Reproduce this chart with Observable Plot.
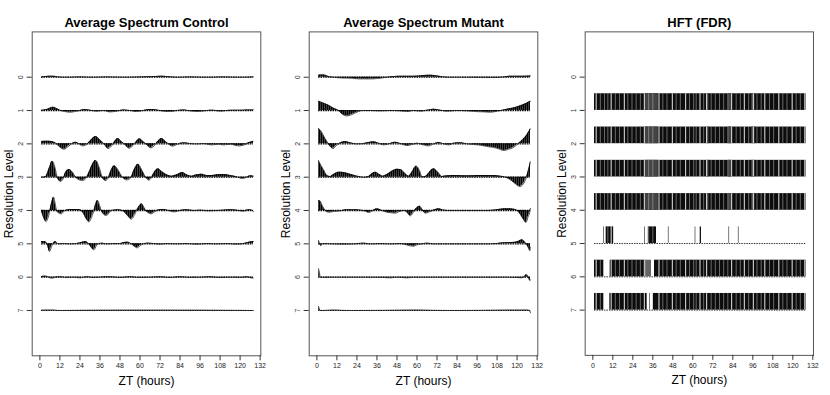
<!DOCTYPE html>
<html><head><meta charset="utf-8">
<script src="https://cdn.jsdelivr.net/npm/d3@7"></script>
<script src="https://cdn.jsdelivr.net/npm/@observablehq/plot@0.6"></script>
<style>
body{margin:0;background:#fff;}
#wrap{position:relative;width:830px;height:395px;overflow:hidden;font-family:"Liberation Sans",Arial,sans-serif;}
.panel{position:absolute;top:0;}
</style></head><body>
<svg width="0" height="0" style="position:absolute">
  <defs>
    <pattern id="hatch" width="2" height="4" patternUnits="userSpaceOnUse">
      <rect width="2" height="4" fill="#555"/>
      <rect width="1.25" height="4" fill="#000"/>
    </pattern>
  </defs>
</svg>
<div id="wrap"></div>
<script>
// ---- data ----
const levels = [0,1,2,3,4,5,6,7];
const xTicks = [0,12,24,36,48,60,72,84,96,108,120,132];
const titles = ["Average Spectrum Control","Average Spectrum Mutant","HFT (FDR)"];
const xLabel = "ZT (hours)";
const yLabel = "Resolution Level";

// Control: [hour, coefficient (in level units, + = up)]
const ctrl0 = [[1,0.01],[3,0.02],[5,0.03],[8,0.03],[11,0.01],[16,0],[24,0.01],[32,0],[40,0.01],[50,0],[60,0.01],[68,0.02],[72,0.03],[76,0.02],[82,0],[90,0.01],[100,0],[110,0.01],[120,0],[128,0.01]];
const ctrl1 = [[1,0.01],[4,0.03],[6,0.07],[8,0.1],[10,0.06],[12,0.01],[15,-0.03],[18,-0.05],[21,-0.03],[24,0],[27,0.03],[30,0.01],[34,-0.02],[38,0],[42,-0.04],[46,-0.02],[50,0.02],[54,0],[58,-0.03],[62,0],[66,0.03],[70,0.02],[74,-0.02],[78,-0.03],[82,0],[86,0.02],[90,-0.01],[95,-0.03],[100,0],[104,0.01],[108,-0.02],[112,0],[116,0.01],[120,0.01],[124,0.02],[128,0.02]];
const ctrl2 = [[1,0.07],[4,0.08],[7,0.07],[10,0],[12,-0.1],[14.5,-0.16],[17,-0.08],[19,0],[21.5,0.05],[23.5,0],[25.5,-0.06],[28,-0.02],[30,0.08],[33.4,0.22],[36,0.12],[38.4,0],[40.8,-0.14],[43,-0.06],[44.5,0.05],[46.8,0.16],[49,0.06],[50.5,0],[53.4,-0.13],[56,-0.04],[57.5,0.05],[59.8,0.15],[62,0.06],[63.5,0],[66.4,-0.12],[69,-0.03],[70.5,0.06],[73,0.16],[75.5,0.06],[77,0],[79.4,-0.07],[82,-0.02],[86,0.03],[90,0.01],[94,0],[98,0.01],[103,-0.03],[107,-0.01],[110,-0.03],[114,-0.01],[119,-0.06],[122,-0.04],[125,0.03],[128,0.08]];
const ctrl3 = [[1,0],[3.4,0.01],[5.5,0.25],[7.4,0.48],[9,0.3],[10.4,0],[12.4,-0.13],[14,-0.04],[15.5,0.15],[17.4,0.23],[19.5,0.15],[21.4,0],[23.5,-0.08],[25.5,-0.1],[27.5,-0.04],[29.5,0.15],[31.5,0.38],[33.4,0.5],[35.5,0.3],[37.4,0],[39.2,-0.1],[41,-0.02],[42.5,0.18],[44.6,0.34],[47,0.2],[49.4,0],[52,-0.08],[54.5,-0.02],[56.5,0.22],[58.8,0.39],[61,0.22],[63.4,0],[65.4,-0.09],[67,0],[68.8,0.16],[70.8,0.25],[73,0.17],[76,0.07],[79,0.03],[82,0.07],[85.4,0.14],[88,0.07],[91,0.03],[94,0.07],[97,0.09],[100,0.05],[103,0.05],[106,0.07],[110,0.08],[114,0.05],[118,0.01],[121.4,-0.04],[124,0],[126,0.04],[128,0.03]];
const ctrl4 = [[1,-0.03],[2.2,-0.2],[3.6,-0.33],[5,-0.2],[6,0],[7,0.22],[8.2,0.4],[9.2,0.2],[10,0],[11.5,-0.08],[12.8,-0.1],[14.5,-0.02],[17,0.02],[20,0.03],[24,0.02],[26,-0.08],[27.8,-0.25],[29.4,-0.34],[31,-0.2],[32.4,0],[33.4,0.18],[34.6,0.3],[35.8,0.15],[36.8,0],[38,-0.1],[39.6,-0.15],[41.5,-0.08],[43,0],[47,0.02],[50,-0.02],[52.5,-0.15],[54.8,-0.26],[56.5,-0.15],[58,0],[59.5,0.12],[61,0.2],[62.3,0.1],[63.4,0],[65,-0.07],[66.6,-0.1],[68.5,-0.05],[70,0],[73.4,0.03],[77,0],[80.4,-0.04],[84,0],[87.4,0.02],[92,0],[96,0.01],[101,-0.01],[106,0],[110,0.01],[115,0.02],[119,0],[122,-0.02],[125,0.02],[127,0.01],[128,-0.03]];
const ctrl5 = [[1,0.07],[3.4,0.06],[4.6,-0.05],[5.8,-0.23],[7,-0.08],[7.8,0],[9.4,0.07],[10.8,0],[14,0.01],[18,0],[22,0.01],[25.5,0.05],[27.4,0.07],[29.2,0],[30.7,-0.1],[32.4,-0.18],[33.8,-0.06],[34.8,0],[37,0.02],[40,0],[44,0.01],[48,0.01],[50.5,0.04],[52.4,0.05],[54.5,0.01],[56.5,-0.07],[58.4,-0.12],[60.4,-0.04],[62,0],[64,0.02],[68,0.01],[72,-0.01],[76,0.01],[82,0],[88,0.01],[94,-0.01],[100,0.01],[106,0],[112,0.01],[118,-0.01],[123,0.02],[126.5,0.06],[128,0.07]];
const ctrl6 = [[1,0.02],[3,0.03],[4.5,0.02],[6,-0.02],[7.5,-0.03],[9,0],[12,0.01],[16,-0.01],[20,0],[24,-0.02],[28,0.01],[32,-0.01],[36,0],[42,0.01],[48,-0.01],[54,0.01],[60,-0.01],[66,0],[72,0.01],[78,-0.01],[84,0.01],[90,-0.01],[96,0],[102,0.01],[108,-0.01],[114,0],[120,-0.01],[124,0.01],[126.5,-0.02],[128,-0.03]];
const ctrl7 = [[1,0.005],[8,0.01],[12,0],[60,0.005],[128,0]];

// Mutant
const mut0 = [[1,0.06],[3,0.07],[5,0.06],[7,0.02],[10,0],[14,-0.02],[20,-0.03],[26,-0.05],[32,-0.05],[38,-0.03],[42,0],[46,0.02],[52,0.03],[58,0.03],[64,0.05],[68,0.06],[72,0.04],[76,0.01],[82,0],[90,0],[100,-0.01],[106,-0.01],[112,0.01],[116,0.03],[122,0.03],[128,0.04]];
const mut1 = [[1,0.28],[3,0.24],[6,0.18],[8,0.13],[10,0.07],[13,0],[15,-0.1],[18,-0.16],[21,-0.12],[24,-0.05],[27,0],[32,0],[38,-0.01],[44,0],[50,-0.01],[54,-0.03],[58,0],[62,-0.02],[66,0.01],[70,0.04],[74,0.01],[78,-0.02],[84,0],[90,-0.01],[95,-0.03],[100,-0.04],[104,-0.05],[108,-0.02],[112,0.02],[116,0.06],[120,0.11],[124,0.18],[128,0.28]];
const mut2 = [[1,0.46],[2.5,0.38],[4,0.24],[6.4,0.04],[8,-0.08],[9.8,-0.14],[11.5,-0.06],[13,0],[15,0.05],[17,0.07],[20,0.03],[24,0],[28,0.01],[31,0.04],[34,0.06],[37,0.02],[40,-0.03],[43,0],[47,0.05],[50,0.01],[54,-0.05],[57,-0.02],[60,0.02],[63,-0.02],[67,-0.06],[70,0],[73,0.04],[76,0],[79,-0.03],[82,0.02],[86,0.03],[90,0],[94,-0.02],[98,-0.04],[102,-0.08],[106,-0.11],[109,-0.15],[112,-0.2],[115,-0.16],[118,-0.1],[120.5,0],[123,0.1],[125.5,0.24],[128,0.45]];
const mut3 = [[1,0.5],[2.5,0.35],[4,0.22],[6,0.05],[8,0.02],[10,0.08],[13,0.15],[16,0.14],[19,0.1],[22,0.06],[25,0.02],[28,0],[31,0.02],[33,0.1],[35,0.15],[37.5,0.08],[39.5,0.03],[42,0.08],[45,0.18],[48,0.24],[50.5,0.22],[53,0.1],[55,0.03],[57,0.15],[59.5,0.33],[61.5,0.2],[63,0.01],[65,0.02],[67,0.12],[70,0.25],[72.5,0.15],[75,0.02],[78,0.04],[84,0.05],[90,0.04],[96,0.05],[102,0.05],[106,0.05],[110,0.03],[113,0],[116,-0.08],[119,-0.2],[121.6,-0.28],[123.5,-0.22],[125,-0.08],[126.5,0.15],[128,0.46]];
const mut4 = [[1,0.3],[2,0.28],[3.2,0.15],[5,0],[7,-0.05],[10,-0.03],[14,-0.01],[18,0.02],[22,0.02],[26,0.01],[29,-0.02],[31,-0.06],[33,-0.02],[36,0.05],[39,0],[42,-0.05],[45,-0.07],[47,-0.08],[49,-0.04],[52,0],[54,-0.05],[56,-0.16],[57.5,-0.08],[59,0.03],[61.6,0.13],[63,0.04],[65,-0.08],[67,-0.05],[69,-0.01],[73,0.05],[76,0.01],[80,0],[90,0],[100,0],[106,0.01],[110,0.04],[114,0.05],[118,0.04],[120,0],[122,-0.12],[124,-0.28],[125.3,-0.36],[126.5,-0.2],[127.6,-0.05],[128,0.06]];
const mut5 = [[1,0.1],[1.6,0.02],[2.4,-0.06],[3.2,0],[5,0.01],[10,0],[16,-0.01],[22,0],[28,0.02],[32,0],[38,0.01],[44,0],[50,0.01],[53,-0.02],[56,-0.06],[58,-0.07],[60,-0.03],[63,0],[66,0.02],[70,0],[80,0],[90,0],[100,0],[108,0.01],[112,0.03],[116,0.04],[119,0.05],[121,0.08],[123,0.12],[124.5,0.06],[125.5,0],[126.8,-0.12],[127.6,-0.2],[128,-0.1]];
const mut6 = [[1,0.25],[1.5,0.15],[2,0],[3,-0.01],[10,0],[20,0],[30,0],[40,-0.01],[44,-0.02],[48,0],[54,-0.02],[58,0],[70,0],[90,0],[110,0],[120,-0.01],[122,-0.02],[124,0],[125.6,0.07],[126.6,0.02],[127.6,-0.1],[128,-0.08]];
const mut7 = [[1,0.12],[1.5,0.05],[2,0],[10,0.01],[20,0],[60,0.01],[80,0],[120,0.01],[126,0.01],[127.6,0],[128,-0.07]];

// HFT (FDR): selected stretches [level, fromHour, toHour]
const hftBlocks = [[1,1,128],[2,1,128],[3,1,128],[4,1,128],[5,8,12.5],[5,33.3,38.2],[6,1,6.6],[6,10.4,31.8],[6,37,128],[7,1,6.6],[7,10.2,32.6],[7,36.3,128]];
const hftGrayBlocks = [[6,31.8,35.2]];
const hftSingleDark = [[5,64.5]];
const hftSingleGray = [[5,6.4],[5,31],[5,45.3],[5,61.3],[5,81.5],[5,87.3],[7,34]];
const hftLightLines = [2.0,11.0,18.9,30.9,39.7,47.7,55.7,64.3,68.3,83.3,90.9,96.3,103.2,111.6,119.6,127.2];
const hftFaintLines = [4.5,7,9,13.5,16,21,23.5,26,28.5,33.5,36,42,44.5,50,52.5,58,60.5,62,66.5,71,73.5,76,78.5,81,86,88.5,93.5,98.5,101,106,108.5,114,116.5,122,124.5];
const hftGrayBands = [[31.3,39.3],[68.3,69.7],[81.3,83.3],[95.3,97.3]];

const control = [ctrl0,ctrl1,ctrl2,ctrl3,ctrl4,ctrl5,ctrl6,ctrl7];
const mutant = [mut0,mut1,mut2,mut3,mut4,mut5,mut6,mut7];

// ---- layout ----
const W = 277, H = 395;
const M = {marginLeft: 31.7, marginRight: 16.7, marginTop: 31.4, marginBottom: 39.7};
const FONT = '"Liberation Sans", Arial, sans-serif';

function frameMarks(title) {
  return [
    Plot.frame({stroke: "#555", strokeWidth: 1}),
    Plot.axisX({ticks: xTicks, tickSize: 5, tickPadding: 2.5, fontSize: 7, label: null, stroke: "#333", fill: "#222"}),
    Plot.axisY({ticks: levels, tickSize: 5, tickFormat: () => "", label: null, stroke: "#333"}),
    Plot.text(levels, {y: d => d, text: d => String(d), frameAnchor: "left", dx: -11, rotate: -90, textAnchor: "middle", lineAnchor: "middle", fontSize: 7, fill: "#333"}),
    Plot.text([title], {frameAnchor: "top", dy: -9.5, lineAnchor: "middle", textAnchor: "middle", fontSize: 13, fontWeight: "bold", text: d => d}),
    Plot.text([xLabel], {frameAnchor: "bottom", dy: 25, lineAnchor: "middle", textAnchor: "middle", fontSize: 12, text: d => d}),
    Plot.text([yLabel], {frameAnchor: "left", dx: -23, rotate: -90, textAnchor: "middle", lineAnchor: "middle", fontSize: 12, text: d => d})
  ];
}

function makePlot(marks) {
  return Plot.plot({
    width: W, height: H, ...M,
    style: {fontFamily: FONT, background: "transparent", overflow: "visible"},
    x: {domain: [-4.6, 132.4], axis: null},
    y: {domain: [8.36, -1.36], axis: null},
    marks
  });
}

function spectrumPanel(rows, title) {
  const pts = rows.flatMap((r, j) => r.map(([t, v]) => ({t, v, level: j})));
  const spans = rows.map((r, j) => ({level: j, t1: r[0][0], t2: r[r.length - 1][0]}));
  return makePlot([
    Plot.areaY(pts, {x: "t", y1: "level", y2: d => d.level - d.v, z: "level", curve: "monotone-x", fill: "url(#hatch)"}),
    Plot.lineY(pts, {x: "t", y: d => d.level - d.v, z: "level", curve: "monotone-x", stroke: "#000", strokeWidth: 0.7, strokeDasharray: "1.6,0.8"}),
    Plot.ruleY(spans, {y: "level", x1: "t1", x2: "t2", stroke: "#000", strokeWidth: d => d.level === 7 ? 0.9 : 1.3, strokeDasharray: "1.6,0.8"}),
    ...frameMarks(title)
  ]);
}

function hftPanel(title) {
  const blocks = hftBlocks.map(([level, t1, t2]) => ({level, t1, t2}));
  const grayBlocks = hftGrayBlocks.map(([level, t1, t2]) => ({level, t1, t2}));
  const bands = [];
  const lights = [];
  const faints = [];
  for (const b of blocks) {
    if (b.level <= 4) for (const [a, c] of hftGrayBands) bands.push({level: b.level, t1: Math.max(a, b.t1), t2: Math.min(c, b.t2)});
    for (const t of hftLightLines) if (t > b.t1 && t < b.t2) lights.push({level: b.level, t});
    for (const t of hftFaintLines) if (t > b.t1 && t < b.t2) faints.push({level: b.level, t});
  }
  const spans = levels.filter(l => l >= 5).map(l => ({level: l, t1: 1, t2: 128}));
  return makePlot([
    Plot.ruleY(spans, {y: "level", x1: "t1", x2: "t2", stroke: "#000", strokeWidth: 0.8, strokeDasharray: "1.5,1"}),
    Plot.rect(blocks, {x1: "t1", x2: "t2", y1: "level", y2: d => d.level - 0.5, fill: "#0d0d0d"}),
    Plot.rect(bands.filter(b => b.t2 > b.t1), {x1: "t1", x2: "t2", y1: "level", y2: d => d.level - 0.5, fill: "#444"}),
    Plot.rect(grayBlocks, {x1: "t1", x2: "t2", y1: "level", y2: d => d.level - 0.5, fill: "#666"}),
    Plot.ruleX(faints, {x: "t", y1: "level", y2: d => d.level - 0.5, stroke: "#aaa", strokeWidth: 0.6}),
    Plot.ruleX(lights, {x: "t", y1: "level", y2: d => d.level - 0.5, stroke: "#fff", strokeWidth: 0.9}),
    Plot.ruleX(hftSingleGray.map(([level, t]) => ({level, t})), {x: "t", y1: "level", y2: d => d.level - 0.5, stroke: "#777", strokeWidth: 1}),
    Plot.ruleX(hftSingleDark.map(([level, t]) => ({level, t})), {x: "t", y1: "level", y2: d => d.level - 0.5, stroke: "#000", strokeWidth: 1.2}),
    ...frameMarks(title)
  ]);
}

const wrap = document.getElementById("wrap");
const panels = [spectrumPanel(control, titles[0]), spectrumPanel(mutant, titles[1]), hftPanel(titles[2])];
panels.forEach((p, i) => {
  const d = document.createElement("div");
  d.className = "panel";
  d.style.left = (i * 830 / 3) + "px";
  d.appendChild(p);
  wrap.appendChild(d);
});
</script></body></html>
